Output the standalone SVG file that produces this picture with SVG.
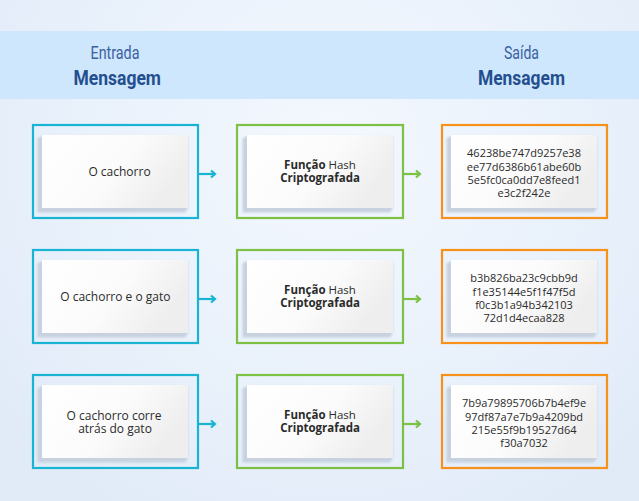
<svg xmlns="http://www.w3.org/2000/svg" width="639" height="501" viewBox="0 0 639 501">
<defs>
<radialGradient id="bg" cx="330" cy="150" r="420" gradientUnits="userSpaceOnUse">
<stop offset="0" stop-color="#f4f8fe"/>
<stop offset="0.6" stop-color="#e9f1fb"/>
<stop offset="1" stop-color="#e1ebf8"/>
</radialGradient>
<linearGradient id="card" x1="0" y1="0" x2="1" y2="0.4">
<stop offset="0" stop-color="#ffffff"/>
<stop offset="0.6" stop-color="#fbfbfb"/>
<stop offset="1" stop-color="#eeeeee"/>
</linearGradient>
<filter id="blur" x="-10%" y="-10%" width="120%" height="120%">
<feGaussianBlur stdDeviation="0.8"/>
</filter>
<marker id="ahB" markerWidth="8" markerHeight="10" refX="5" refY="5" orient="auto" markerUnits="userSpaceOnUse">
<path d="M1,1.5 L5,5 L1,8.5" fill="none" stroke="#19b4d3" stroke-width="2.2"/>
</marker>
<marker id="ahG" markerWidth="8" markerHeight="10" refX="5" refY="5" orient="auto" markerUnits="userSpaceOnUse">
<path d="M1,1.5 L5,5 L1,8.5" fill="none" stroke="#7cc143" stroke-width="2.2"/>
</marker>
<g id="cardshape">
<path d="M42,136 L37.5,138.5 L37.5,212.5 L185,212.5 L188,208 L188,136 Z" fill="#c7d1df" filter="url(#blur)"/>
<rect x="42" y="135" width="146" height="73" fill="url(#card)"/>
</g>
</defs>
<style>
.fb{fill:none;stroke:#19b4d3;stroke-width:2.2}
.fg{fill:none;stroke:#7cc143;stroke-width:2.2}
.fo{fill:none;stroke:#f7911a;stroke-width:2.2}
.t{font-family:"Open Sans","Noto Sans",sans-serif;font-size:12px;fill:#2b2b2b;text-anchor:middle}
.h{font-family:"Open Sans","Noto Sans",sans-serif;font-size:11px;fill:#2b2b2b;text-anchor:middle}
.f{font-family:"Open Sans","Noto Sans",sans-serif;font-size:11.5px;fill:#2b2b2b;text-anchor:middle}
.b{font-weight:700}
.hd1{font-family:Roboto,"Liberation Sans",sans-serif;font-size:17.5px;fill:#3a61a2}
.hd2{font-family:Roboto,"Liberation Sans",sans-serif;font-size:21px;font-weight:700;fill:#244f8f}
.ab{stroke:#19b4d3;stroke-width:2.2;fill:none}
.ag{stroke:#7cc143;stroke-width:2.2;fill:none}
</style>
<rect x="0" y="0" width="639" height="501" fill="url(#bg)"/>
<g id="header">
<rect x="0" y="31" width="639" height="68" fill="#cfe7fc"/>
<text class="hd1" x="90.5" y="59" textLength="49" lengthAdjust="spacingAndGlyphs">Entrada</text>
<text class="hd2" x="73.5" y="85" textLength="87.5" lengthAdjust="spacingAndGlyphs">Mensagem</text>
<text class="hd1" x="504" y="59" textLength="35" lengthAdjust="spacingAndGlyphs">Saída</text>
<text class="hd2" x="478" y="85" textLength="87" lengthAdjust="spacingAndGlyphs">Mensagem</text>
</g>
<g id="connectors">
<path class="ab" d="M198,174 H215" marker-end="url(#ahB)"/>
<path class="ag" d="M403,174 H420" marker-end="url(#ahG)"/>
<path class="ab" d="M198,299 H215" marker-end="url(#ahB)"/>
<path class="ag" d="M403,299 H420" marker-end="url(#ahG)"/>
<path class="ab" d="M198,424 H215" marker-end="url(#ahB)"/>
<path class="ag" d="M403,424 H420" marker-end="url(#ahG)"/>
</g>
<g id="input1">
<rect class="fb" x="33" y="125" width="165" height="93"/>
<use href="#cardshape"/>
<text class="t" x="119.5" y="175.5">O cachorro</text>
</g>
<g id="hash1">
<rect class="fg" x="237" y="125" width="166" height="93"/>
<use href="#cardshape" transform="translate(205,0)"/>
<text class="f" x="320" y="168.5"><tspan class="b">Função</tspan> Hash</text>
<text class="f b" x="320" y="182">Criptografada</text>
</g>
<g id="output1">
<rect class="fo" x="442" y="125" width="165" height="93"/>
<use href="#cardshape" transform="translate(409,0)"/>
<text class="h" x="524" y="157.3">46238be747d9257e38</text>
<text class="h" x="524" y="170.7">ee77d6386b61abe60b</text>
<text class="h" x="524" y="184">5e5fc0ca0dd7e8feed1</text>
<text class="h" x="524" y="197.4">e3c2f242e</text>
</g>
<g id="input2">
<rect class="fb" x="33" y="250" width="165" height="93"/>
<use href="#cardshape" transform="translate(0,125)"/>
<text class="t" x="115.3" y="300.5">O cachorro e o gato</text>
</g>
<g id="hash2">
<rect class="fg" x="237" y="250" width="166" height="93"/>
<use href="#cardshape" transform="translate(205,125)"/>
<text class="f" x="320" y="293.5"><tspan class="b">Função</tspan> Hash</text>
<text class="f b" x="320" y="307">Criptografada</text>
</g>
<g id="output2">
<rect class="fo" x="442" y="250" width="165" height="93"/>
<use href="#cardshape" transform="translate(409,125)"/>
<text class="h" x="524" y="282.3">b3b826ba23c9cbb9d</text>
<text class="h" x="524" y="295.7">f1e35144e5f1f47f5d</text>
<text class="h" x="524" y="309">f0c3b1a94b342103</text>
<text class="h" x="524" y="322.4">72d1d4ecaa828</text>
</g>
<g id="input3">
<rect class="fb" x="33" y="375" width="165" height="93"/>
<use href="#cardshape" transform="translate(0,250)"/>
<text class="t" x="114" y="419.5">O cachorro corre</text>
<text class="t" x="115" y="432.7">atrás do gato</text>
</g>
<g id="hash3">
<rect class="fg" x="237" y="375" width="166" height="93"/>
<use href="#cardshape" transform="translate(205,250)"/>
<text class="f" x="320" y="418.5"><tspan class="b">Função</tspan> Hash</text>
<text class="f b" x="320" y="432">Criptografada</text>
</g>
<g id="output3">
<rect class="fo" x="442" y="375" width="165" height="93"/>
<use href="#cardshape" transform="translate(409,250)"/>
<text class="h" x="524" y="407.3">7b9a79895706b7b4ef9e</text>
<text class="h" x="524" y="420.7">97df87a7e7b9a4209bd</text>
<text class="h" x="524" y="434">215e55f9b19527d64</text>
<text class="h" x="524" y="447.4">f30a7032</text>
</g>
</svg>
